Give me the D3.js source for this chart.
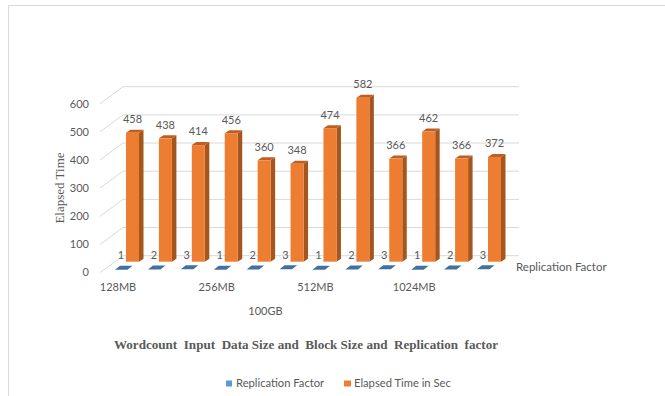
<!DOCTYPE html>
<html>
<head>
<meta charset="utf-8">
<script src="https://cdnjs.cloudflare.com/ajax/libs/d3/7.8.5/d3.min.js"></script>
<style>
    html, body { margin: 0; padding: 0; background: #fff; }
    svg { display: block; }
    text { font-family: Lato, sans-serif; fill: #595959; }
</style>
</head>
<body>
<svg id="chart" width="665" height="396"></svg>
<script>
var replication = [1, 2, 3, 1, 2, 3, 1, 2, 3, 1, 2, 3];
var elapsed = [458, 438, 414, 456, 360, 348, 474, 582, 366, 462, 366, 372];
var blockSizes = ["128MB", "256MB", "512MB", "1024MB"];
var yTicks = [0, 100, 200, 300, 400, 500, 600];
var inputSize = "100GB";
var seriesNames = ["Replication Factor", "Elapsed Time in Sec"];
var titleText = "Wordcount  Input  Data Size and  Block Size and  Replication  factor";

var svg = d3.select("#chart");

var orange = "#ed7d31", orangeSide = "#a5561f", orangeTop = "#bd5f20",
    blue = "#41719c", blueKey = "#5b9bd5", grid = "#d9d9d9";

// depth of the 3D box, from the front plane to the back wall
var depthX = 23, depthY = -17;

var idx = d3.range(elapsed.length);

// x gives the left edge of each orange column
var x = d3.scaleLinear().domain([0, 11]).range([126, 488]);
var barW = 13, sideW = 4.5, sideH = 3;

// value scale for the back wall, the front edge and the column row
var yBack = d3.scaleLinear().domain([0, 600]).range([255.7, 86.7]);
var yFront = d3.scaleLinear().domain([0, 600]).range([271.5, 104.3]);
var yBar = d3.scaleLinear().domain([0, 600]).range([261.7, 92.7]);

// page frame
svg.append("path")
    .attr("d", "M8.5,396V5.5H665")
    .attr("fill", "none")
    .attr("stroke", "#d9d9d9");

// back wall and left wall grid
svg.append("g").selectAll("line")
    .data(yTicks)
    .join("line")
    .attr("x1", 123).attr("x2", 519)
    .attr("y1", d => yBack(d)).attr("y2", d => yBack(d))
    .attr("stroke", grid);

svg.append("g").selectAll("line")
    .data(yTicks)
    .join("line")
    .attr("x1", 123 - depthX).attr("x2", 123)
    .attr("y1", d => yBack(d) - depthY).attr("y2", d => yBack(d))
    .attr("stroke", grid);

// value axis, labels only
svg.append("g")
    .attr("transform", "translate(93,0)")
    .call(d3.axisLeft(yFront).tickValues(yTicks).tickSize(0).tickPadding(4))
    .call(g => g.select(".domain").remove())
    .call(g => g.selectAll("text").attr("font-size", 11).attr("font-family", null));

// flat replication tiles, rising from the floor by their value
var tileBase = 270, tileW = 12.5, tileD = 5;
var tileH = d3.scaleLinear().domain([0, 600]).range([0, 169]);

svg.append("g").selectAll("path")
    .data(idx)
    .join("path")
    .attr("fill", blue)
    .attr("d", function(i) {
        var left = x(i) - 11;
        var y0 = tileBase - tileH(replication[i]);
        return "M" + left + "," + y0 +
            "L" + (left + tileW) + "," + y0 +
            "L" + (left + tileW + tileD) + "," + (y0 - 4) +
            "L" + (left + tileD) + "," + (y0 - 4) + "Z";
    });

// orange columns: side, top, then front face
var bars = svg.append("g").selectAll("g")
    .data(idx)
    .join("g");

bars.append("path")
    .attr("fill", orangeSide)
    .attr("d", function(i) {
        var r = x(i) + barW, t = yBar(elapsed[i]), b = yBar(0);
        return "M" + r + "," + t + "L" + (r + sideW) + "," + (t - sideH) +
            "L" + (r + sideW) + "," + (b - sideH) + "L" + r + "," + b + "Z";
    });

bars.append("path")
    .attr("fill", orangeTop)
    .attr("d", function(i) {
        var l = x(i), t = yBar(elapsed[i]);
        return "M" + l + "," + t + "L" + (l + barW) + "," + t +
            "L" + (l + barW + sideW) + "," + (t - sideH) +
            "L" + (l + sideW) + "," + (t - sideH) + "Z";
    });

bars.append("rect")
    .attr("x", i => x(i))
    .attr("y", i => yBar(elapsed[i]))
    .attr("width", barW)
    .attr("height", i => yBar(0) - yBar(elapsed[i]))
    .attr("fill", orange);

// value labels
bars.append("text")
    .attr("x", i => x(i) + 6.5)
    .attr("y", i => yBar(elapsed[i]) - 13.5)
    .attr("dy", "0.35em")
    .attr("text-anchor", "middle")
    .attr("font-size", 11)
    .text(i => elapsed[i]);

bars.append("text")
    .attr("x", i => x(i) - 5)
    .attr("y", 255)
    .attr("dy", "0.35em")
    .attr("text-anchor", "middle")
    .attr("font-size", 11)
    .text(i => replication[i]);

// block size labels sit under the first column of each group
svg.append("g").selectAll("text")
    .data(blockSizes)
    .join("text")
    .attr("x", (d, i) => x(i * 3) - 8)
    .attr("y", 287)
    .attr("dy", "0.35em")
    .attr("text-anchor", "middle")
    .attr("font-size", 11)
    .text(d => d);

svg.append("text")
    .attr("x", 265.5).attr("y", 311)
    .attr("dy", "0.35em")
    .attr("text-anchor", "middle")
    .attr("font-size", 11)
    .text(inputSize);

svg.append("text")
    .attr("x", 516).attr("y", 267)
    .attr("dy", "0.35em")
    .attr("font-size", 11.5)
    .text(seriesNames[0]);

// axis title and chart title use a serif face
svg.append("text")
    .attr("transform", "translate(59,188) rotate(-90)")
    .attr("dy", "0.35em")
    .attr("text-anchor", "middle")
    .style("font-family", "'Liberation Serif', serif")
    .attr("font-size", 13)
    .text("Elapsed Time");

svg.append("text")
    .attr("x", 306).attr("y", 344)
    .attr("dy", "0.35em")
    .attr("text-anchor", "middle")
    .attr("font-size", 13.1)
    .attr("font-weight", "bold")
    .style("font-family", "'Liberation Serif', serif")
    .style("white-space", "pre")
    .text(titleText);

// legend
var legendKeys = [
    {x: 226, w: 6, color: blueKey, textX: 236},
    {x: 344, w: 7, color: orange, textX: 354}
];
var legend = svg.append("g").selectAll("g")
    .data(legendKeys)
    .join("g");

legend.append("rect")
    .attr("x", d => d.x).attr("y", 380.5)
    .attr("width", d => d.w).attr("height", 6)
    .attr("fill", d => d.color);

legend.append("text")
    .attr("x", d => d.textX).attr("y", 383)
    .attr("dy", "0.35em")
    .attr("font-size", 11.2)
    .text((d, i) => seriesNames[i]);
</script>
</body>
</html>
